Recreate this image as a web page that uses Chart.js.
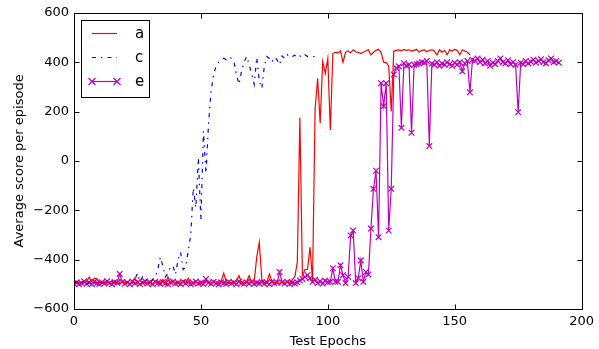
<!DOCTYPE html>
<html><head><meta charset="utf-8">
<script src="https://cdn.jsdelivr.net/npm/chart.js@4/dist/chart.umd.min.js"></script>
<style>html,body{margin:0;padding:0;background:#fff;}canvas{display:block;}</style>
</head><body>
<canvas id="c" width="599" height="349"></canvas>
<script>
// Series "a" (red solid), epochs 0..156
const seriesA = [
-495,-498,-490,-500,-494,-488,-470,-490,-475,-478,-492,
-497,-490,-500,-495,-488,-496,-492,-500,-490,-495,
-492,-498,-488,-475,-494,-500,-490,-496,-493,-487,
-499,-491,-486,-495,-480,-500,-470,-492,-488,-496,
-490,-497,-485,-493,-475,-495,-498,-490,-494,-500,
-492,-488,-496,-495,-490,-498,-493,-486,-455,-490,
-497,-494,-490,-488,-465,-492,-496,-490,-465,-493,
-490,-390,-330,-480,-495,-490,-458,-488,-495,-492,
-497,-490,-495,-488,-493,-480,-470,-410,175,-465,
-440,-440,-350,-485,210,335,153,403,355,415,
125,435,440,438,445,400,440,445,438,450,
442,440,435,440,445,450,430,440,448,452,
440,400,398,385,200,445,448,450,446,452,
448,450,445,448,452,440,448,450,442,448,
450,445,430,450,440,448,430,450,445,452,
448,430,450,445,440,430
];
// Series "c" (blue dash-dot), epochs 0..95
const seriesC = [
-495,-490,-498,-492,-488,-500,-493,-490,-497,-486,
-495,-492,-499,-488,-494,-490,-496,-485,-493,-498,
-490,-492,-487,-495,-480,-455,-490,-470,-485,-480,
-490,-480,-470,-440,-390,-425,-470,-455,-430,-425,
-460,-400,-370,-440,-430,-365,-300,-110,-190,10,
-240,120,-50,150,280,350,385,400,410,416,
410,420,416,403,350,310,363,400,423,390,
355,310,419,322,294,383,423,415,400,420,
410,390,425,415,431,420,423,428,418,425,
420,430,423,425,423,423
];
// Series "e" (magenta with x markers), epochs 0..191
const seriesE = [
-497,-492,-500,-495,-488,-498,-493,-500,-490,-496,
-499,-492,-497,-488,-495,-500,-491,-494,-458,-490,
-498,-493,-500,-489,-496,-492,-499,-494,-488,-497,
-493,-500,-490,-495,-498,-491,-496,-500,-493,-489,
-497,-494,-499,-490,-496,-492,-500,-495,-489,-497,
-493,-499,-478,-494,-498,-490,-496,-500,-492,-495,
-498,-490,-496,-493,-500,-489,-495,-498,-492,-497,
-490,-499,-494,-496,-491,-498,-493,-500,-490,-496,
-493,-450,-492,-497,-490,-499,-494,-497,-492,-485,
-478,-470,-462,-475,-490,-482,-495,-488,-497,-485,
-492,-490,-435,-490,-490,-423,-463,-495,-470,-302,
-282,-495,-475,-403,-490,-450,-460,-274,-113,-40,
-309,315,222,315,-282,-113,350,376,383,134,
396,385,390,114,390,392,395,400,398,405,
60,395,390,400,385,395,390,400,392,385,
398,390,400,363,395,405,278,410,405,415,
400,410,395,405,385,398,392,405,415,400,
395,408,392,400,390,197,398,392,405,395,
402,410,398,405,412,400,395,408,415,400,
405,398
];
const xTicks = [0, 50, 100, 150, 200];
const yTicks = [-600, -400, -200, 0, 200, 400, 600];
const legendLabels = ['a', 'c', 'e'];

const toPts = arr => arr.map((v, i) => ({x: i, y: v}));
const FONT = 'DejaVu Sans';
const RED = '#ff0000', BLUE = '#0000ff', MAG = '#bf00bf';

const framePlugin = {
  id: 'frame',
  afterDraw(chart) {
    const ctx = chart.ctx, a = chart.chartArea;
    const xs = chart.scales.x, ys = chart.scales.y;
    ctx.save();
    ctx.strokeStyle = '#000';
    ctx.lineWidth = 1;
    const L = Math.round(a.left) + 0.5, R = Math.round(a.right) + 0.5;
    const T = Math.round(a.top) + 0.5, B = Math.round(a.bottom) + 0.5;
    ctx.strokeRect(L, T, R - L, B - T);
    const tl = 5;
    ctx.beginPath();
    xTicks.forEach(v => {
      const p = Math.round(xs.getPixelForValue(v)) + 0.5;
      ctx.moveTo(p, B); ctx.lineTo(p, B - tl);
      ctx.moveTo(p, T); ctx.lineTo(p, T + tl);
    });
    yTicks.forEach(v => {
      const p = Math.round(ys.getPixelForValue(v)) + 0.5;
      ctx.moveTo(L, p); ctx.lineTo(L + tl, p);
      ctx.moveTo(R, p); ctx.lineTo(R - tl, p);
    });
    ctx.stroke();

    // legend
    const bx = 81.5, by = 20.5, bw = 68, bh = 77;
    ctx.fillStyle = '#fff';
    ctx.fillRect(bx, by, bw, bh);
    ctx.strokeStyle = '#000';
    ctx.strokeRect(bx, by, bw, bh);
    const rows = [33, 57, 81];
    const x1 = 92, x2 = 117;
    const styles = [
      {c: RED, dash: [], mark: false},
      {c: BLUE, dash: [4, 5, 1.5, 5], mark: false},
      {c: MAG, dash: [], mark: true}
    ];
    styles.forEach((s, i) => {
      const yy = rows[i] + 0.5;
      ctx.strokeStyle = s.c;
      ctx.lineWidth = 1.2;
      ctx.setLineDash(s.dash);
      ctx.beginPath(); ctx.moveTo(x1, yy); ctx.lineTo(x2, yy); ctx.stroke();
      ctx.setLineDash([]);
      if (s.mark) {
        [x1, x2].forEach(px => {
          const r = 3.5;
          ctx.beginPath();
          ctx.moveTo(px - r, yy - r); ctx.lineTo(px + r, yy + r);
          ctx.moveTo(px - r, yy + r); ctx.lineTo(px + r, yy - r);
          ctx.stroke();
        });
      }
      ctx.fillStyle = '#000';
      ctx.font = '15px "' + FONT + '"';
      ctx.textBaseline = 'middle';
      ctx.textAlign = 'left';
      ctx.fillText(legendLabels[i], 135, rows[i] + 1);
    });
    ctx.restore();
  }
};

new Chart(document.getElementById('c'), {
  type: 'line',
  data: {
    datasets: [
      {label: legendLabels[0], data: toPts(seriesA), borderColor: RED, borderWidth: 1.2, pointRadius: 0, tension: 0, fill: false},
      {label: legendLabels[1], data: toPts(seriesC), borderColor: BLUE, borderWidth: 1.2, borderDash: [4, 5, 1.5, 5], pointRadius: 0, tension: 0, fill: false},
      {label: legendLabels[2], data: toPts(seriesE), borderColor: MAG, borderWidth: 1.2, pointRadius: 4, pointStyle: 'crossRot', pointBorderColor: MAG, pointBorderWidth: 1.2, pointBackgroundColor: MAG, tension: 0, fill: false}
    ]
  },
  options: {
    responsive: false,
    devicePixelRatio: 1,
    animation: false,
    layout: {padding: {left: 0, right: 12, top: 12, bottom: 0}},
    plugins: {legend: {display: false}, tooltip: {enabled: false}},
    scales: {
      x: {
        type: 'linear', min: 0, max: 200,
        afterBuildTicks: s => { s.ticks = xTicks.map(v => ({value: v})); },
        afterFit: s => { s.height = 40; },
        grid: {display: false, drawTicks: false},
        border: {display: false},
        ticks: {color: '#000', padding: 5, font: {family: FONT, size: 13}, maxRotation: 0},
        title: {display: true, text: 'Test Epochs', color: '#000', font: {family: FONT, size: 13}, padding: {top: 0, bottom: 0}}
      },
      y: {
        type: 'linear', min: -600, max: 600,
        afterBuildTicks: s => { s.ticks = yTicks.map(v => ({value: v})); },
        afterFit: s => { s.width = 74; },
        grid: {display: false, drawTicks: false},
        border: {display: false},
        ticks: {color: '#000', padding: 5, font: {family: FONT, size: 13}, callback: v => String(v).replace('-', '\u2212')},
        title: {display: true, text: 'Average score per episode', color: '#000', font: {family: FONT, size: 13}, padding: {top: 12, bottom: 4}}
      }
    }
  },
  plugins: [framePlugin]
});
</script>
</body></html>
